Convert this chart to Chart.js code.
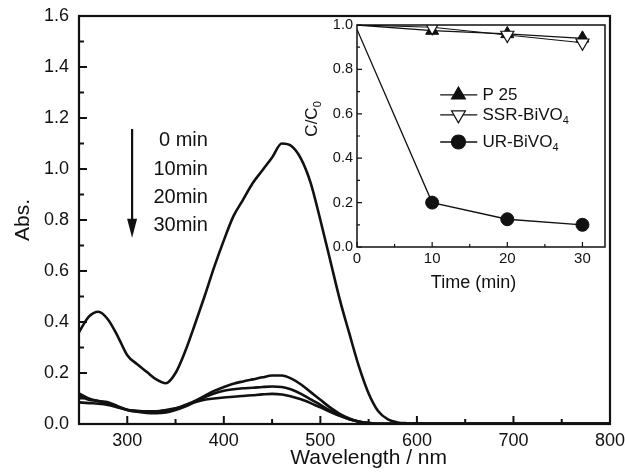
<!DOCTYPE html>
<html>
<head>
<meta charset="utf-8">
<script src="https://cdn.jsdelivr.net/npm/chart.js@4.4.1/dist/chart.umd.min.js"></script>
<style>
  html, body { margin: 0; padding: 0; background: #fff; }
  #wrap { position: relative; width: 625px; height: 475px; }
  #main { position: absolute; left: 0; top: 0; }
  #inset { position: absolute; left: 300px; top: 17px; }
</style>
</head>
<body>
<div id="wrap">
  <canvas id="main" width="625" height="475"></canvas>
  <canvas id="inset" width="308" height="290"></canvas>
</div>
<script>
// main spectra, wavelength in nm
const wavelengths = [250, 260, 270, 280, 290, 300, 310, 320, 330, 340,
    350, 360, 370, 380, 390, 400, 410, 420, 430, 440,
    450, 460, 470, 480, 490, 500, 510, 520, 530, 540,
    550, 560, 570, 580, 590, 600, 650, 700, 750, 800];
const abs0min = [0.36, 0.42, 0.44, 0.41, 0.345, 0.27, 0.235, 0.205, 0.175, 0.16,
    0.2, 0.285, 0.39, 0.5, 0.615, 0.72, 0.815, 0.88, 0.945, 0.995,
    1.045, 1.1, 1.09, 1.04, 0.945, 0.80, 0.645, 0.49, 0.355, 0.225,
    0.12, 0.05, 0.018, 0.006, 0.003, 0.002, 0.001, 0.001, 0.001, 0.001];
const abs10min = [0.12, 0.1, 0.09, 0.085, 0.07, 0.055, 0.05, 0.05, 0.05, 0.052,
    0.06, 0.075, 0.09, 0.11, 0.13, 0.145, 0.158, 0.167, 0.175, 0.183,
    0.19, 0.19, 0.178, 0.155, 0.125, 0.095, 0.065, 0.04, 0.022, 0.01,
    0.004, 0.001, 0.001, 0.001, 0.001, 0.001, 0.001, 0.001, 0.001, 0.001];
const abs20min = [0.11, 0.095, 0.09, 0.08, 0.068, 0.056, 0.052, 0.05, 0.05, 0.055,
    0.062, 0.072, 0.088, 0.105, 0.12, 0.13, 0.136, 0.14, 0.142, 0.145,
    0.147, 0.145, 0.135, 0.118, 0.097, 0.075, 0.053, 0.034, 0.019, 0.009,
    0.003, 0.001, 0.001, 0.001, 0.001, 0.001, 0.001, 0.001, 0.001, 0.001];
const abs30min = [0.085, 0.082, 0.08, 0.075, 0.065, 0.055, 0.048, 0.043, 0.042, 0.045,
    0.055, 0.068, 0.085, 0.095, 0.1, 0.104, 0.107, 0.11, 0.113, 0.116,
    0.118, 0.116, 0.108, 0.097, 0.082, 0.065, 0.048, 0.032, 0.019, 0.009,
    0.004, 0.001, 0.001, 0.001, 0.001, 0.001, 0.001, 0.001, 0.001, 0.001];
const timeLabels = ['0 min', '10min', '20min', '30min'];
const mainXTicks = [300, 400, 500, 600, 700, 800];
const mainYTicks = [0, 0.2, 0.4, 0.6, 0.8, 1.0, 1.2, 1.4, 1.6];

// inset: C/C0 vs time
const times = [0, 10, 20, 30];
const p25 = [1.0, 0.975, 0.96, 0.94];
const ssrBiVO4 = [1.0, 0.99, 0.955, 0.92];
const urBiVO4 = [0.98, 0.2, 0.125, 0.1];
const insetXTicks = [0, 10, 20, 30];
const insetYTicks = [0, 0.2, 0.4, 0.6, 0.8, 1.0];

const FONT = "'Liberation Sans', Arial, sans-serif";
const INK = '#111';

function pairs(xs, ys) {
    return xs.map((x, i) => ({x: x, y: ys[i]}));
}

function noPad(s) {
    s.paddingLeft = 0;
    s.paddingRight = 0;
    s.paddingTop = 0;
    s.paddingBottom = 0;
}

// inward tick marks + closed frame
function frameTicksPlugin(cfg) {
    return {
        id: 'frameTicks',
        afterDraw(chart) {
            const ctx = chart.ctx;
            const a = chart.chartArea;
            const xs = chart.scales.x;
            const ys = chart.scales.y;
            ctx.save();
            ctx.strokeStyle = INK;
            ctx.lineWidth = cfg.tickWidth;
            ctx.beginPath();
            for (let v = cfg.xMin; v <= cfg.xMax + 1e-9; v += cfg.xMinor) {
                const px = xs.getPixelForValue(v);
                const major = Math.abs(v / cfg.xMajor - Math.round(v / cfg.xMajor)) < 1e-6;
                ctx.moveTo(px, a.bottom);
                ctx.lineTo(px, a.bottom - (major ? cfg.majorLen : cfg.minorLen));
            }
            for (let v = cfg.yMin; v <= cfg.yMax + 1e-9; v += cfg.yMinor) {
                const py = ys.getPixelForValue(v);
                const major = Math.abs(v / cfg.yMajor - Math.round(v / cfg.yMajor)) < 1e-6;
                ctx.moveTo(a.left, py);
                ctx.lineTo(a.left + (major ? cfg.majorLen : cfg.minorLen), py);
            }
            ctx.stroke();
            ctx.lineWidth = cfg.frameWidth;
            ctx.strokeRect(a.left, a.top, a.right - a.left, a.bottom - a.top);
            ctx.restore();
        }
    };
}

const annotationPlugin = {
    id: 'timeArrow',
    afterDraw(chart) {
        const ctx = chart.ctx;
        const xs = chart.scales.x;
        const ys = chart.scales.y;
        const ax = xs.getPixelForValue(305);
        const top = ys.getPixelForValue(1.157);
        const tip = ys.getPixelForValue(0.73);
        ctx.save();
        ctx.strokeStyle = INK;
        ctx.fillStyle = INK;
        ctx.lineWidth = 2.2;
        ctx.beginPath();
        ctx.moveTo(ax, top);
        ctx.lineTo(ax, tip - 14);
        ctx.stroke();
        ctx.beginPath();
        ctx.moveTo(ax - 5, tip - 19);
        ctx.lineTo(ax + 5, tip - 19);
        ctx.lineTo(ax, tip);
        ctx.closePath();
        ctx.fill();
        ctx.font = '20px ' + FONT;
        ctx.textAlign = 'right';
        ctx.textBaseline = 'middle';
        const tx = xs.getPixelForValue(383.5);
        const rows = [1.11, 1.0, 0.89, 0.78];
        timeLabels.forEach((t, i) => ctx.fillText(t, tx, ys.getPixelForValue(rows[i])));
        // x axis title
        ctx.font = '21px ' + FONT;
        ctx.textAlign = 'center';
        ctx.fillText('Wavelength / nm', xs.getPixelForValue(550), xs.bottom - 17);
        ctx.restore();
    }
};

const lineStyle = {
    borderColor: INK,
    borderWidth: 2.6,
    pointRadius: 0,
    cubicInterpolationMode: 'monotone',
    fill: false
};

new Chart(document.getElementById('main'), {
    type: 'line',
    data: {
        datasets: [
            Object.assign({label: timeLabels[0], data: pairs(wavelengths, abs0min)}, lineStyle),
            Object.assign({label: timeLabels[1], data: pairs(wavelengths, abs10min)}, lineStyle),
            Object.assign({label: timeLabels[2], data: pairs(wavelengths, abs20min)}, lineStyle),
            Object.assign({label: timeLabels[3], data: pairs(wavelengths, abs30min)}, lineStyle)
        ]
    },
    options: {
        responsive: false,
        animation: false,
        layout: {autoPadding: false, padding: {top: 16, right: 15, left: 0, bottom: 0}},
        plugins: {legend: {display: false}, tooltip: {enabled: false}},
        scales: {
            x: {
                type: 'linear',
                min: 250,
                max: 800,
                afterBuildTicks: (s) => { s.ticks = mainXTicks.map(v => ({value: v})); },
                afterFit: (s) => { s.height = 51; noPad(s); },
                grid: {display: false, drawTicks: false},
                border: {display: false},
                ticks: {color: INK, font: {family: FONT, size: 18}, padding: 6, maxRotation: 0}
            },
            y: {
                min: 0,
                max: 1.6,
                afterBuildTicks: (s) => { s.ticks = mainYTicks.map(v => ({value: v})); },
                afterFit: (s) => { s.width = 79; noPad(s); },
                grid: {display: false, drawTicks: false},
                border: {display: false},
                ticks: {color: INK, font: {family: FONT, size: 18}, padding: 10,
                    callback: (v) => Number(v).toFixed(1)},
                title: {display: true, text: 'Abs.', color: INK,
                    font: {family: FONT, size: 21}, padding: {top: 11, bottom: 0}}
            }
        }
    },
    plugins: [
        frameTicksPlugin({xMin: 250, xMax: 800, xMajor: 100, xMinor: 50,
            yMin: 0, yMax: 1.6, yMajor: 0.2, yMinor: 0.1,
            majorLen: 8, minorLen: 5, tickWidth: 2, frameWidth: 2.2}),
        annotationPlugin
    ]
});

// inset legend + subscripted y title
const insetLegendItems = [
    {label: 'P 25', sub: '', style: 'triangle', rotation: 0, fill: INK, y: 0.685},
    {label: 'SSR-BiVO', sub: '4', style: 'triangle', rotation: 180, fill: '#fff', y: 0.595},
    {label: 'UR-BiVO', sub: '4', style: 'circle', rotation: 0, fill: INK, y: 0.473}
];

const insetTextPlugin = {
    id: 'insetText',
    afterDraw(chart) {
        const ctx = chart.ctx;
        const xs = chart.scales.x;
        const ys = chart.scales.y;
        const a = chart.chartArea;
        ctx.save();
        ctx.strokeStyle = INK;
        ctx.textBaseline = 'middle';
        insetLegendItems.forEach((it) => {
            const py = ys.getPixelForValue(it.y);
            const x0 = xs.getPixelForValue(11.07);
            const x1 = xs.getPixelForValue(16.0);
            const mx = xs.getPixelForValue(13.5);
            ctx.lineWidth = 1.3;
            ctx.beginPath();
            ctx.moveTo(x0, py);
            ctx.lineTo(x1, py);
            ctx.stroke();
            ctx.fillStyle = it.fill;
            ctx.lineWidth = 1.2;
            Chart.helpers.drawPoint(ctx, {pointStyle: it.style, rotation: it.rotation,
                radius: it.style === 'circle' ? 7 : 8, borderWidth: 1.2}, mx, py);
            ctx.fillStyle = INK;
            ctx.font = '17px ' + FONT;
            ctx.textAlign = 'left';
            const tx = xs.getPixelForValue(16.7);
            ctx.fillText(it.label, tx, py);
            if (it.sub) {
                const w = ctx.measureText(it.label).width;
                ctx.font = '11px ' + FONT;
                ctx.fillText(it.sub, tx + w, py + 6);
            }
        });
        // x title
        ctx.fillStyle = INK;
        ctx.font = '18px ' + FONT;
        ctx.textAlign = 'center';
        ctx.fillText('Time (min)', xs.getPixelForValue(15.5), a.bottom + 36);
        // C/C0 title
        ctx.translate(12, (a.top + a.bottom) / 2 - 18);
        ctx.rotate(-Math.PI / 2);
        ctx.font = '17px ' + FONT;
        const main = 'C/C';
        const w = ctx.measureText(main).width;
        ctx.fillText(main, -4, 0);
        ctx.font = '11px ' + FONT;
        ctx.textAlign = 'left';
        ctx.fillText('0', -4 + w / 2, 6);
        ctx.restore();
    }
};

function markerSizes(r) {
    return times.map((t) => (t === 0 ? 0 : r));
}

new Chart(document.getElementById('inset'), {
    type: 'line',
    data: {
        datasets: [
            {label: 'P 25', data: pairs(times, p25), order: 1,
                borderColor: INK, borderWidth: 1.3, backgroundColor: INK,
                pointStyle: 'triangle', pointRadius: markerSizes(7.5), pointBorderWidth: 1},
            {label: 'SSR-BiVO4', data: pairs(times, ssrBiVO4), order: 0,
                borderColor: INK, borderWidth: 1.1, backgroundColor: '#fff',
                pointStyle: 'triangle', pointRotation: 180, pointRadius: markerSizes(7.5), pointBorderWidth: 1.2},
            {label: 'UR-BiVO4', data: pairs(times, urBiVO4), order: 2,
                borderColor: INK, borderWidth: 1.3, backgroundColor: INK,
                pointStyle: 'circle', pointRadius: markerSizes(6.5), pointBorderWidth: 1}
        ]
    },
    options: {
        responsive: false,
        animation: false,
        layout: {autoPadding: false, padding: {top: 8, right: 3, left: 0, bottom: 0}},
        plugins: {legend: {display: false}, tooltip: {enabled: false}},
        scales: {
            x: {
                type: 'linear',
                min: 0,
                max: 33,
                afterBuildTicks: (s) => { s.ticks = insetXTicks.map(v => ({value: v})); },
                afterFit: (s) => { s.height = 60; noPad(s); },
                grid: {display: false, drawTicks: false},
                border: {display: false},
                ticks: {color: INK, font: {family: FONT, size: 15}, padding: 3, maxRotation: 0}
            },
            y: {
                min: 0,
                max: 1.0,
                afterBuildTicks: (s) => { s.ticks = insetYTicks.map(v => ({value: v})); },
                afterFit: (s) => { s.width = 57; noPad(s); },
                grid: {display: false, drawTicks: false},
                border: {display: false},
                ticks: {color: INK, font: {family: FONT, size: 14.5}, padding: 4,
                    callback: (v) => Number(v).toFixed(1)}
            }
        }
    },
    plugins: [
        frameTicksPlugin({xMin: 0, xMax: 30, xMajor: 10, xMinor: 5,
            yMin: 0, yMax: 1.0, yMajor: 0.2, yMinor: 0.1,
            majorLen: 5, minorLen: 3, tickWidth: 1.2, frameWidth: 1.5}),
        insetTextPlugin
    ]
});
</script>
</body>
</html>
